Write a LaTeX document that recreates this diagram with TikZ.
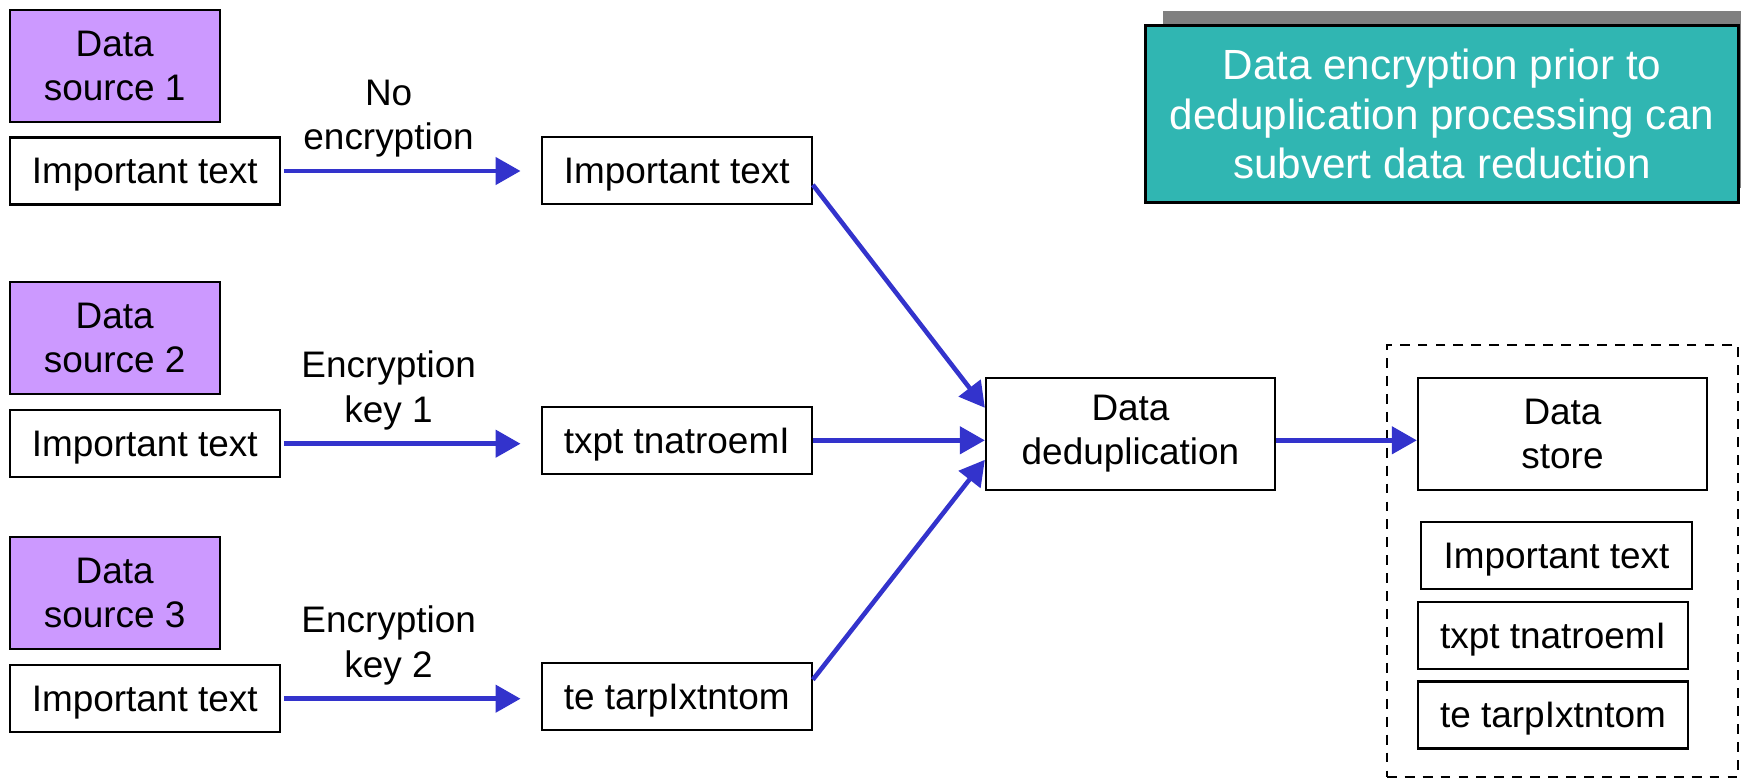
\documentclass[tikz,border=0pt]{standalone}
\usepackage{fontspec}
\setmainfont{Liberation Sans}
\usetikzlibrary{arrows.meta,shadows}
\definecolor{SourceLilac}{RGB}{204,153,255}
\definecolor{FlowBlue}{RGB}{51,51,204}
\definecolor{NoteTeal}{RGB}{48,182,178}
\definecolor{ShadowGray}{RGB}{128,128,128}
\newcommand{\boxfont}{\fontsize{10.5}{12.6}\selectfont}
\newcommand{\notefont}{\fontsize{12}{14}\selectfont}
\tikzset{
  srcbox/.style={draw,line width=0.6pt,fill=SourceLilac,minimum width=2.1cm,
    minimum height=1.12cm,align=center,font=\boxfont},
  txtbox/.style={draw,line width=0.6pt,fill=white,minimum width=2.7cm,
    minimum height=0.67cm,inner sep=0pt,text depth=0pt,font=\boxfont},
  procbox/.style={draw,line width=0.6pt,minimum width=2.89cm,
    minimum height=1.12cm,align=center,font=\boxfont},
  vaultbox/.style={draw,line width=0.6pt,dash pattern=on 2.8pt off 2.3pt,
    minimum width=3.51cm,minimum height=4.32cm},
  notebox/.style={draw,line width=0.9pt,fill=NoteTeal,text=white,
    minimum width=5.92cm,minimum height=1.774cm,align=center,font=\notefont,
    general shadow={fill=ShadowGray,shadow xshift=0.17cm,shadow yshift=0.145cm}},
  flow/.style={FlowBlue,line width=1.3pt,-{Triangle[length=0.25cm,width=0.27cm]}},
  lbl/.style={align=center,text=black,font=\boxfont}
}

\begin{document}
\begin{tikzpicture}[x=0.01cm,y=-0.01cm]
  \useasboundingbox (0,0) rectangle (1741,778);
  % sources and their plain text
  \node[srcbox] (src1) at (114.7,65.8) {Data\\source 1};
  \node[srcbox] (src2) at (114.7,337.8) {Data\\source 2};
  \node[srcbox] (src3) at (114.7,593) {Data\\source 3};
  \node[txtbox] (plain1) at (144.7,171) {Important text};
  \node[txtbox] (plain2) at (144.7,443.7) {Important text};
  \node[txtbox] (plain3) at (144.7,698.7) {Important text};
  % what reaches the deduplication step
  \node[txtbox] (enc1) at (676.7,170.8) {Important text};
  \node[txtbox] (enc2) at (676.7,440.3) {txpt tnatroemI};
  \node[txtbox] (enc3) at (676.7,696.7) {te tarpIxtntom};
  \node[procbox] (dedup) at (1130.5,433.8) {Data\\deduplication};
  % the store
  \node[vaultbox] (vault) at (1562.4,561) {};
  \node[procbox] (store) at (1562.5,433.8) {Data\\store};
  \node[txtbox] (kept1) at (1556.5,555.3) {Important text};
  \node[txtbox] (kept2) at (1553,635.3) {txpt tnatroemI};
  \node[txtbox] (kept3) at (1553,715) {te tarpIxtntom};
  \node[notebox] (note) at (1442,114)
    {Data encryption prior to\\deduplication processing can\\subvert data reduction};

  % encryption step
  \draw[flow,shorten <=0.03cm,shorten >=0.2cm] (plain1.east)
    -- node[lbl,above,pos=0.415] (key0) {No\\encryption} (plain1.east -| enc1.west);
  \draw[flow,shorten <=0.03cm,shorten >=0.2cm] (plain2.east)
    -- node[lbl,above,pos=0.415] (key1) {Encryption\\key 1} (plain2.east -| enc2.west);
  \draw[flow,shorten <=0.03cm,shorten >=0.2cm] (plain3.east)
    -- node[lbl,above,pos=0.415] (key2) {Encryption\\key 2} (plain3.east -| enc3.west);

  % into dedup and on to the store
  \draw[flow] ([yshift=-0.14cm]enc1.east) -- ([yshift=0.26cm]dedup.west);
  \draw[flow] (enc2.east) -- (enc2.east -| dedup.west);
  \draw[flow] ([yshift=0.17cm]enc3.east) -- ([yshift=-0.26cm]dedup.west);
  \draw[flow] (dedup.east |- enc2.east) -- (store.west |- enc2.east);
\end{tikzpicture}
\end{document}
